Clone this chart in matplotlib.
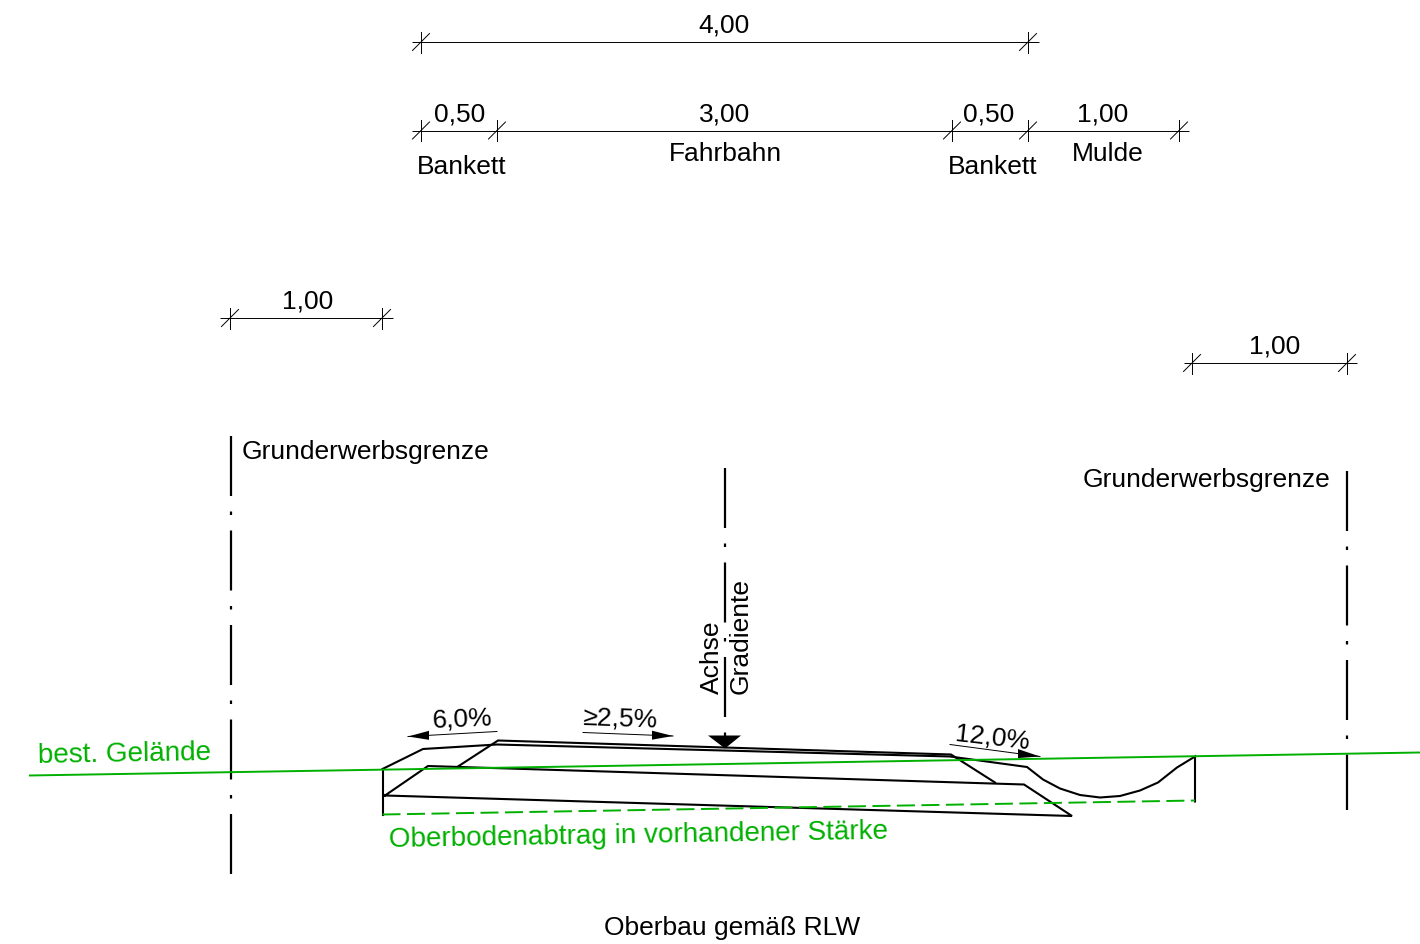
import matplotlib
matplotlib.use("Agg")
import matplotlib.pyplot as plt

plt.rcParams['font.family'] = ['Liberation Sans', 'DejaVu Sans']

# все координаты в пикселях исходного чертежа
# профиль поверхности с кюветом
surface_x = [382.5, 423, 497, 950, 1027, 1043, 1060, 1080, 1100, 1120, 1140, 1158, 1177, 1195, 1195]
surface_y = [769.5, 749.5, 745, 757, 767.5, 780, 789, 795.5, 798, 796.5, 791, 783, 768, 757, 802]

# верхний слой (проезжая часть)
upper_x = [458, 498, 951, 995]
upper_y = [767, 741, 755, 783]

# нижний слой
lower_x = [385, 428, 1024, 1072, 385]
lower_y = [796, 766.5, 785, 816.5, 796]

edge_x = [382.5, 382.5]
edge_y = [769.5, 815]

ground_x = [29, 1420]
ground_y = [776, 753]

topsoil_x = [382.5, 1195]
topsoil_y = [815, 801]

# размерные линии: y, начало, конец, положения засечек
dim_rows = [
    (42.5, 412, 1039, [421, 1028]),
    (131, 412, 1189, [421, 497, 952, 1028, 1179]),
    (318.5, 220, 393, [230, 382]),
    (363.5, 1184, 1357, [1192, 1347]),
]

# осевые линии: x, начало, конец
axis_lines = [
    (231, 436, 875),
    (725, 468, 736),
    (1346.5, 471, 810),
]

# уклоны: начало стрелки, острие, основание наконечника
slope_arrows = [
    ((497, 732), (408, 737), 429),
    ((583, 733), (673, 736.5), 652),
    ((950, 745), (1040, 757), 1018),
]

gradient_mark_x = [708, 741, 725]
gradient_mark_y = [736, 736, 749]

# подписи: текст, x, y, выравнивание, поворот, цвет, размер
labels = [
    ("4,00", 724, 32.5, 'center', 0, 'black', 19),
    ("0,50", 460, 121, 'center', 0, 'black', 19),
    ("3,00", 724.5, 121, 'center', 0, 'black', 19),
    ("0,50", 989, 121, 'center', 0, 'black', 19),
    ("1,00", 1103, 121, 'center', 0, 'black', 19),
    ("Bankett", 462, 173.5, 'center', 0, 'black', 19),
    ("Fahrbahn", 725, 160.5, 'center', 0, 'black', 19),
    ("Bankett", 993, 173.5, 'center', 0, 'black', 19),
    ("Mulde", 1108, 160.5, 'center', 0, 'black', 19),
    ("1,00", 308, 308.5, 'center', 0, 'black', 19),
    ("1,00", 1275, 353, 'center', 0, 'black', 19),
    ("Grunderwerbsgrenze", 242, 458.5, 'left', 0, 'black', 19),
    ("Grunderwerbsgrenze", 1083, 486.5, 'left', 0, 'black', 19),
    ("Achse", 719, 694, 'left', 90, 'black', 19),
    ("Gradiente", 748, 694, 'left', 90, 'black', 19),
    ("6,0%", 432, 727, 'left', 2.5, 'black', 19),
    ("≥2,5%", 582.5, 724.5, 'left', -2, 'black', 19),
    ("12,0%", 954, 740, 'left', -6.5, 'black', 19),
    ("best. Gelände", 38, 762.5, 'left', 1, '#00b000', 20.1),
    ("Oberbodenabtrag in vorhandener Stärke", 389, 846.5, 'left', 0.95, '#00b000', 20.1),
    ("Oberbau gemäß RLW", 604, 934.5, 'left', 0, 'black', 19),
]

GREEN = '#00b000'
TICK = 10.5
SLASH = 8.5

fig = plt.figure(figsize=(14.2, 9.45), dpi=100)
ax = fig.add_axes([0, 0, 1, 1])
ax.set_xlim(0, 1420)
ax.set_ylim(944.5, -0.5)
ax.axis('off')

# размерные линии
for y, x0, x1, ticks in dim_rows:
    ax.plot([x0, x1], [y, y], color='black', lw=0.7, solid_capstyle='butt')
    for t in ticks:
        ax.plot([t, t], [y - TICK, y + TICK], color='black', lw=0.7)
        ax.plot([t - SLASH, t + SLASH], [y + SLASH, y - SLASH], color='black', lw=0.7)

# осевые линии (штрих-пунктир), период 95 px
px = 72 / fig.dpi
for x, y0, y1 in axis_lines:
    line, = ax.plot([x, x], [y0, y1], color='black', lw=1.6, dash_capstyle='butt')
    line.set_dashes([60 * px / 1.6, 15.5 * px / 1.6, 3.5 * px / 1.6, 15.5 * px / 1.6])

# сечение дороги
for xs, ys in [(surface_x, surface_y), (upper_x, upper_y), (lower_x, lower_y), (edge_x, edge_y)]:
    ax.plot(xs, ys, color='black', lw=1.5, solid_joinstyle='miter')

ax.plot(ground_x, ground_y, color=GREEN, lw=1.4, solid_capstyle='butt')
topsoil, = ax.plot(topsoil_x, topsoil_y, color=GREEN, lw=1.4, dash_capstyle='butt')
topsoil.set_dashes([18 * px / 1.4, 6.5 * px / 1.4])

# стрелки уклонов
for start, tip, base in slope_arrows:
    ax.plot([start[0], tip[0]], [start[1], tip[1]], color='black', lw=0.7)
    k = (tip[1] - start[1]) / (tip[0] - start[0])
    base_y = tip[1] + k * (base - tip[0])
    ax.fill([tip[0], base, base], [tip[1], base_y - 4.5, base_y + 4.5], color='black', lw=0)

ax.fill(gradient_mark_x, gradient_mark_y, color='black', lw=0)

for text, x, y, ha, rot, color, size in labels:
    ax.text(x, y, text, ha=ha, va='baseline', rotation=rot, rotation_mode='anchor',
            color=color, fontsize=size)

fig.savefig('out.png', dpi=100)
